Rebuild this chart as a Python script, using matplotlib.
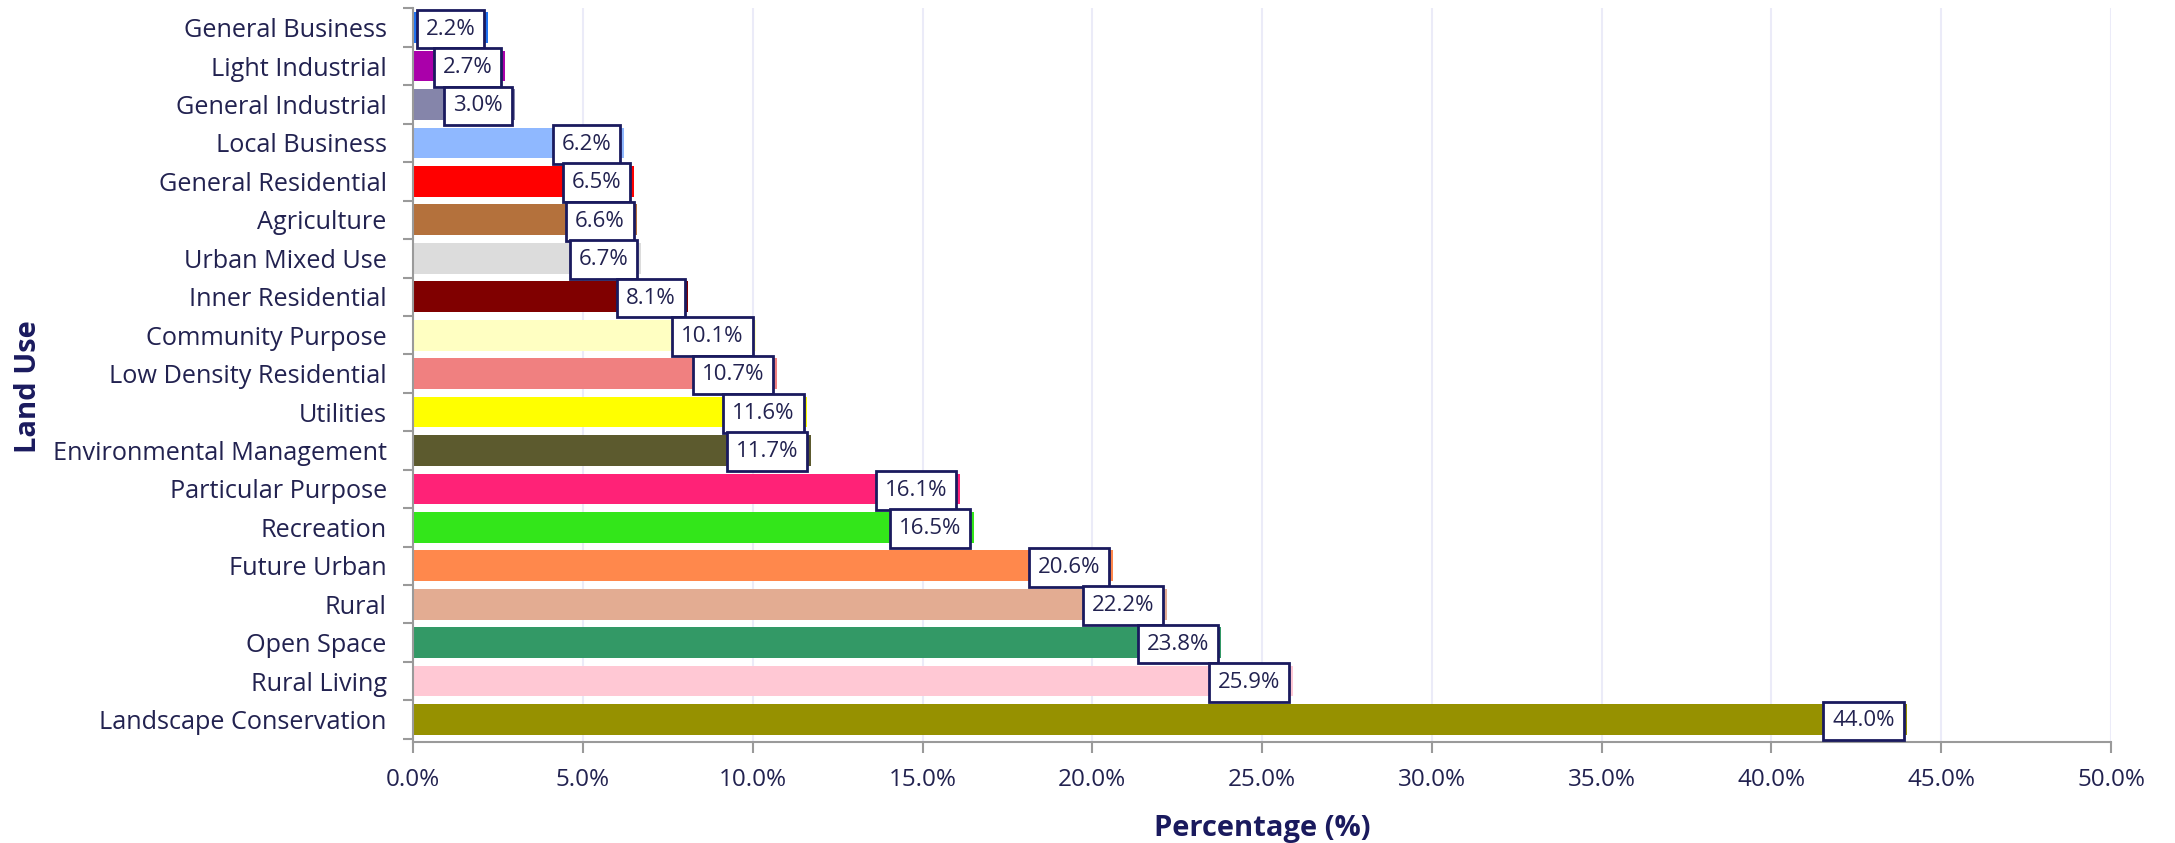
import matplotlib
matplotlib.use("Agg")
import matplotlib.pyplot as plt
from matplotlib.ticker import FuncFormatter, FixedLocator
import numpy as np

plt.rcParams["font.family"] = ["Open Sans", "DejaVu Sans"]

# =============================================================================
# DATA
# =============================================================================

CATEGORIES = [
    "General Business", "Light Industrial", "General Industrial", "Local Business",
    "General Residential", "Agriculture", "Urban Mixed Use", "Inner Residential",
    "Community Purpose", "Low Density Residential", "Utilities",
    "Environmental Management", "Particular Purpose", "Recreation",
    "Future Urban", "Rural", "Open Space", "Rural Living", "Landscape Conservation",
]

PERCENTAGES = [2.2, 2.7, 3.0, 6.2, 6.5, 6.6, 6.7, 8.1, 10.1, 10.7, 11.6,
               11.7, 16.1, 16.5, 20.6, 22.2, 23.8, 25.9, 44.0]

COLORS = [
    "#1f72f0", "#aa00aa", "#8585aa", "#8fb8ff", "#ff0000", "#b4713c",
    "#dcdcdc", "#800000", "#ffffc2", "#f08080", "#ffff00", "#5c5a2e",
    "#ff2277", "#33e61a", "#ff884c", "#e3ac92", "#339966", "#ffc8d4",
    "#969100",
]

NAVY = "#1a1a5e"
TEXT = "#222250"
GREY = "#9a9a9a"

# =============================================================================
# PLOT
# =============================================================================

fig = plt.figure(figsize=(21.75, 8.43), dpi=100)
ax = fig.add_axes([0.19, 0.12, 0.7806, 0.87])

y = np.arange(len(CATEGORIES))
ax.barh(y, PERCENTAGES, height=0.8, color=COLORS, zorder=2)

for yi, v in zip(y, PERCENTAGES):
    ax.annotate(f"{v:.1f}%", xy=(v, yi), xytext=(-9, -1),
                textcoords="offset points", ha="right", va="center",
                fontsize=16, color=TEXT, zorder=4,
                bbox=dict(boxstyle="square,pad=0.4", fc="white",
                          ec=NAVY, lw=2))

ax.set_xlim(0, 50)
ax.set_ylim(len(CATEGORIES) - 0.42, -0.5)
ax.set_xticks(np.arange(0, 51, 5))
ax.xaxis.set_major_formatter(FuncFormatter(lambda v, p: f"{v:.1f}%"))
ax.set_yticks(y)
ax.set_yticklabels(CATEGORIES)
ax.yaxis.set_minor_locator(FixedLocator(np.arange(-0.5, len(CATEGORIES), 1)))

ax.tick_params(axis="y", which="major", length=0, pad=19, labelsize=18.2,
               labelcolor=TEXT)
ax.tick_params(axis="y", which="minor", length=7, width=1.5, color=GREY)
ax.tick_params(axis="x", which="major", length=8, width=1.5, color=GREY,
               pad=11, labelsize=17.5, labelcolor=TEXT)

ax.grid(axis="x", color="#ebebf8", linewidth=1.5, zorder=0)
ax.set_axisbelow(True)

for side in ["top", "right"]:
    ax.spines[side].set_visible(False)
for side in ["left", "bottom"]:
    ax.spines[side].set_color(GREY)
    ax.spines[side].set_linewidth(1.5)

ax.set_xlabel("Percentage (%)", fontsize=21, fontweight="bold", color=NAVY,
              labelpad=16)
ax.set_ylabel("Land Use", fontsize=21, fontweight="bold", color=NAVY)
ax.yaxis.set_label_coords(-0.218, 0.485)

fig.savefig("out.png", dpi=100)
